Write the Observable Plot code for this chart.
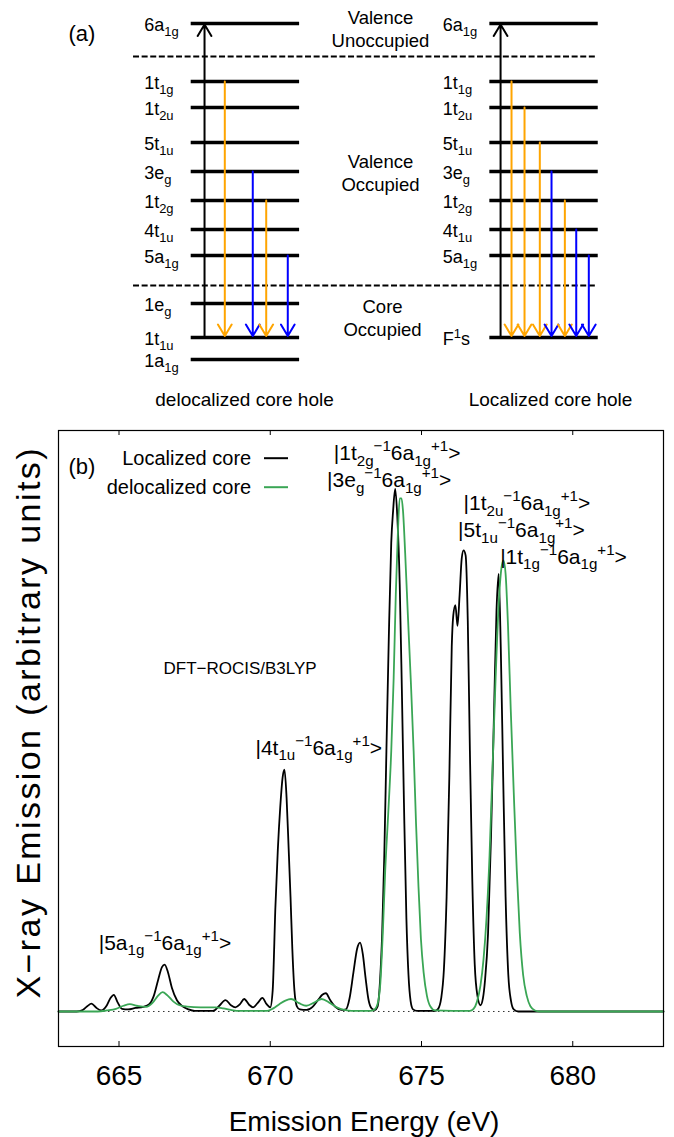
<!DOCTYPE html>
<html>
<head>
<meta charset="utf-8">
<script src="https://cdn.jsdelivr.net/npm/d3@7"></script>
<script src="https://cdn.jsdelivr.net/npm/@observablehq/plot@0.6"></script>
<style>
html, body { margin: 0; padding: 0; background: #fff; }
#chart { width: 674px; }
#chart svg { display: block; }
</style>
</head>
<body>
<div id="chart"></div>
<script>
// ---------------- DATA ----------------
// Panel (a): schematic orbital energies (arbitrary units)
const leftLevelNames  = ["6a_{1g}","1t_{1g}","1t_{2u}","5t_{1u}","3e_{g}","1t_{2g}","4t_{1u}","5a_{1g}","1e_{g}","1t_{1u}","1a_{1g}"];
const leftLevelEnergy = [33.7, 27.9, 25.3, 21.8, 18.9, 16.0, 13.1, 10.5, 5.7, 2.3, 0.1];
const rightLevelNames  = ["6a_{1g}","1t_{1g}","1t_{2u}","5t_{1u}","3e_{g}","1t_{2g}","4t_{1u}","5a_{1g}","F^{1}s"];
const rightLevelEnergy = [33.7, 27.9, 25.3, 21.8, 18.9, 16.0, 13.1, 10.5, 2.3];
const boundaryEnergy = [30.4, 7.5];
const regionLabels = ["Valence\nUnoccupied", "Valence\nOccupied", "Core\nOccupied"];
const regionEnergy = [33.2, 18.8, 4.3];
const regionPos = [1.746, 1.746, 1.765];
// emission transitions (position along the level line, 0..1)
const leftArrowFrom  = ["1t_{1g}","3e_{g}","1t_{2g}","5a_{1g}"];
const leftArrowPos   = [0.31, 0.568, 0.692, 0.891];
const leftArrowColor = ["orange","blue","orange","blue"];
const rightArrowFrom  = ["1t_{1g}","1t_{2u}","5t_{1u}","3e_{g}","1t_{2g}","4t_{1u}","5a_{1g}"];
const rightArrowPos   = [0.2, 0.32, 0.461, 0.569, 0.692, 0.797, 0.913];
const rightArrowColor = ["orange","orange","orange","blue","orange","blue","blue"];
const excitePos = [0.123, 0.099];
const captionText = ["delocalized core hole", "Localized core hole"];

// Panel (b): spectra [energy (eV), intensity (arb.)]
const localized = [
[663.0,0],[663.6,0],[663.8,0.003],[663.95,0.010],[664.09,0.015],[664.25,0.007],[664.42,0.002],
[664.6,0.012],[664.72,0.026],[664.83,0.032],[664.95,0.018],[665.1,0.005],[665.3,0.004],[665.55,0.007],
[665.8,0.009],[666.0,0.014],[666.15,0.03],[666.3,0.062],[666.42,0.085],[666.51,0.090],[666.62,0.075],
[666.75,0.045],[666.92,0.021],[667.1,0.01],[667.3,0.004],[667.5,0.001],[668.1,0.001],[668.3,0.01],
[668.52,0.022],[668.7,0.012],[668.85,0.008],[669.0,0.014],[669.14,0.024],[669.3,0.013],[669.43,0.008],
[669.58,0.016],[669.74,0.026],[669.88,0.014],[670.0,0.008],[670.08,0.04],[670.17,0.2],[670.25,0.31],
[670.33,0.392],[670.41,0.45],[670.47,0.464],[670.54,0.41],[670.61,0.31],[670.67,0.22],[670.73,0.12],
[670.8,0.04],[670.88,0.01],[670.98,0.004],[671.2,0.003],[671.4,0.009],[671.58,0.022],[671.72,0.032],
[671.84,0.035],[671.98,0.022],[672.15,0.009],[672.35,0.003],[672.5,0.004],[672.62,0.025],[672.75,0.075],
[672.87,0.12],[672.97,0.132],[673.06,0.11],[673.15,0.065],[673.25,0.022],[673.35,0.006],[673.45,0.003],
[673.55,0.01],[673.63,0.06],[673.7,0.15],[673.77,0.3],[673.84,0.5],[673.92,0.72],[674.0,0.9],
[674.06,0.96],[674.13,1.003],[674.2,0.95],[674.28,0.82],[674.35,0.62],[674.42,0.4],[674.5,0.18],
[674.57,0.07],[674.64,0.02],[674.72,0.004],[674.85,0.001],[675.45,0.001],[675.55,0.005],[675.65,0.025],
[675.74,0.08],[675.83,0.22],[675.92,0.45],[676.0,0.7],[676.05,0.76],[676.12,0.78],[676.19,0.74],
[676.26,0.8],[676.33,0.87],[676.39,0.885],[676.46,0.875],[676.53,0.75],[676.6,0.5],[676.68,0.25],
[676.76,0.09],[676.85,0.03],[676.95,0.012],[677.03,0.025],[677.1,0.06],[677.2,0.15],[677.3,0.34],
[677.4,0.58],[677.48,0.77],[677.55,0.84],[677.62,0.7],[677.7,0.45],[677.78,0.22],[677.87,0.07],
[677.96,0.02],[678.05,0.004],[678.2,0],[683.0,0]
];
const delocalized = [
[663.0,0],[664.3,0],[664.6,0.002],[664.9,0.005],[665.15,0.011],[665.36,0.014],[665.6,0.011],
[665.9,0.009],[666.1,0.016],[666.3,0.031],[666.44,0.037],[666.6,0.031],[666.8,0.019],[667.0,0.012],
[667.25,0.0095],[667.7,0.008],[668.2,0.008],[668.45,0.006],[668.7,0.003],[669.0,0.001],[669.9,0.001],
[670.1,0.006],[670.3,0.014],[670.5,0.021],[670.69,0.024],[670.95,0.016],[671.19,0.011],[671.45,0.017],
[671.7,0.024],[671.95,0.017],[672.2,0.008],[672.45,0.003],[672.7,0.001],[673.3,0.001],[673.45,0.004],
[673.55,0.015],[673.64,0.055],[673.72,0.15],[673.8,0.27],[673.9,0.38],[674.0,0.5],[674.08,0.64],
[674.15,0.8],[674.22,0.92],[674.28,0.985],[674.34,0.985],[674.39,0.96],[674.46,0.88],[674.55,0.76],
[674.65,0.63],[674.74,0.5],[674.82,0.36],[674.9,0.24],[674.98,0.14],[675.07,0.075],[675.18,0.03],
[675.29,0.01],[675.45,0.002],[676.6,0.001],[676.72,0.005],[676.83,0.018],[676.95,0.05],[677.05,0.1],
[677.15,0.18],[677.25,0.3],[677.35,0.47],[677.45,0.64],[677.55,0.78],[677.64,0.85],[677.71,0.866],
[677.78,0.84],[677.86,0.74],[677.95,0.58],[678.05,0.42],[678.15,0.27],[678.25,0.15],[678.36,0.07],
[678.48,0.03],[678.6,0.01],[678.75,0.002],[678.9,0],[683.0,0]
];
const xTicks = [665, 670, 675, 680];
const legendLabels = ["Localized core", "delocalized core"];
const annoText = [
  "|1t_{2g}^{−1}6a_{1g}^{+1}>",
  "|3e_{g}^{−1}6a_{1g}^{+1}>",
  "|1t_{2u}^{−1}6a_{1g}^{+1}>",
  "|5t_{1u}^{−1}6a_{1g}^{+1}>",
  "|1t_{1g}^{−1}6a_{1g}^{+1}>",
  "|4t_{1u}^{−1}6a_{1g}^{+1}>",
  "|5a_{1g}^{−1}6a_{1g}^{+1}>"
];
const annoE = [672.10, 671.88, 676.39, 676.21, 677.60, 669.51, 664.33];
const annoV = [1.058, 1.006, 0.962, 0.910, 0.859, 0.493, 0.118];
const methodLabel = "DFT−ROCIS/B3LYP";
const yTitle = "X−ray Emission (arbitrary units)";
const xTitle = "Emission Energy (eV)";

// ---------------- STYLE / LAYOUT ----------------
const FONT = "'Liberation Sans', Arial, Helvetica, sans-serif";
const GREEN = "#3aa655";
const W = 674;

// ---------------- PANEL A ----------------
const AH = 415;
const diagLeftPx = 190.7, diagWidthPx = 108.4;
const rightOffset = 2.755;
const labelOffset = -0.434;
const levels = [
  ...leftLevelNames.map((n, i) => ({name: n, energy: leftLevelEnergy[i], off: 0})),
  ...rightLevelNames.map((n, i) => ({name: n, energy: rightLevelEnergy[i], off: rightOffset}))
];
const eL = n => leftLevelEnergy[leftLevelNames.indexOf(n)];
const eR = n => rightLevelEnergy[rightLevelNames.indexOf(n)];
const arrows = [
  ...leftArrowFrom.map((n, i) => ({x: leftArrowPos[i], y1: eL(n), y2: eL("1t_{1u}"), color: leftArrowColor[i]})),
  ...rightArrowFrom.map((n, i) => ({x: rightOffset + rightArrowPos[i], y1: eR(n), y2: eR("F^{1}s"), color: rightArrowColor[i]}))
];
const excite = [
  {x: excitePos[0], y1: eL("1t_{1u}"), y2: eL("6a_{1g}")},
  {x: rightOffset + excitePos[1], y1: eR("F^{1}s"), y2: eR("6a_{1g}")}
];
const captionPos = [0.492, 3.315];

const panelA = Plot.plot({
  width: W, height: AH,
  marginLeft: 0, marginRight: 0, marginTop: 0, marginBottom: 0,
  x: {domain: [-diagLeftPx / diagWidthPx, (W - diagLeftPx) / diagWidthPx], range: [0, W], axis: null},
  y: {domain: [-5.5, 36], range: [AH, 0], axis: null},
  color: {type: "identity"},
  style: {fontFamily: FONT, color: "#000", background: "#fff", overflow: "visible"},
  marks: [
    Plot.ruleY(boundaryEnergy, {x1: -0.532, x2: 3.73, stroke: "#000", strokeWidth: 1.8, strokeDasharray: "6,2.6"}),
    Plot.ruleY(levels, {y: "energy", x1: "off", x2: d => d.off + 1, stroke: "#000", strokeWidth: 3.5}),
    Plot.arrow(excite, {x1: "x", x2: "x", y1: "y1", y2: "y2", stroke: "#000", strokeWidth: 2, headLength: 10, headAngle: 62, insetEnd: 1}),
    Plot.arrow(arrows, {x1: "x", x2: "x", y1: "y1", y2: "y2", stroke: "color", strokeWidth: 2, headLength: 10, headAngle: 62, insetEnd: 1.5}),
    Plot.text(levels, {x: d => d.off + labelOffset, y: "energy", text: "name", textAnchor: "start", fontSize: 18, dy: 2}),
    Plot.text(regionLabels, {x: (d, i) => regionPos[i], y: (d, i) => regionEnergy[i], textAnchor: "middle", fontSize: 18.5, lineHeight: 1.22}),
    Plot.text(captionText, {x: (d, i) => captionPos[i], y: -3.9, textAnchor: "middle", fontSize: 19}),
    Plot.text(["(a)"], {x: -1.132, y: 32.7, textAnchor: "start", fontSize: 22})
  ]
});

// ---------------- PANEL B ----------------
const BH = 722, mL = 58, mR = 11, mT = 15, mB = 91;
const yLo = -0.0672, yHi = 1.1152;
const xPix = d3.scaleLinear([663, 683], [mL, W - mR]);
const yPix = d3.scaleLinear([yLo, yHi], [BH - mB, mT]);
const tickLen = 5;
const legendY = [yPix.invert(42.7), yPix.invert(71.7)];
const legendColors = ["#000", GREEN];

const panelB = Plot.plot({
  width: W, height: BH,
  marginLeft: mL, marginRight: mR, marginTop: mT, marginBottom: mB,
  x: {domain: [663, 683]},
  y: {domain: [yLo, yHi], axis: null},
  color: {type: "identity"},
  style: {fontFamily: FONT, color: "#000", background: "#fff", overflow: "visible"},
  marks: [
    Plot.ruleY([0], {stroke: "#333", strokeWidth: 1, strokeDasharray: "1.5,3.5"}),
    Plot.line(localized, {x: d => d[0], y: d => d[1], stroke: "#000", strokeWidth: 1.8, curve: "monotone-x"}),
    Plot.line(delocalized, {x: d => d[0], y: d => d[1], stroke: GREEN, strokeWidth: 1.8, curve: "monotone-x"}),
    Plot.frame({stroke: "#000", strokeWidth: 1.2}),
    Plot.ruleX(xTicks, {y1: yLo, y2: yPix.invert(BH - mB - tickLen), stroke: "#000", strokeWidth: 1}),
    Plot.ruleX(xTicks, {y1: yHi, y2: yPix.invert(mT + tickLen), stroke: "#000", strokeWidth: 1}),
    Plot.axisX({ticks: xTicks, tickSize: 0, tickPadding: 18.5, fontSize: 28, label: null}),
    Plot.text([xTitle], {frameAnchor: "bottom", dx: 3, dy: 84, lineAnchor: "bottom", fontSize: 28}),
    Plot.text([yTitle], {frameAnchor: "left", rotate: -90, dx: -29.5, dy: -15, textAnchor: "middle", fontSize: 34}),
    Plot.text(["(b)"], {frameAnchor: "top-left", dx: 10, dy: 28, textAnchor: "start", fontSize: 22}),
    Plot.text(legendLabels, {x: xPix.invert(250.7), y: (d, i) => legendY[i], textAnchor: "end", fontSize: 20}),
    Plot.ruleY(legendLabels, {y: (d, i) => legendY[i], x1: xPix.invert(264), x2: xPix.invert(288), stroke: (d, i) => legendColors[i], strokeWidth: 2}),
    Plot.text(annoText, {x: (d, i) => annoE[i], y: (d, i) => annoV[i], textAnchor: "start", lineAnchor: "bottom", fontSize: 21}),
    Plot.text([methodLabel], {x: 666.47, y: 0.647, textAnchor: "start", lineAnchor: "bottom", fontSize: 17})
  ]
});

const chart = document.getElementById("chart");
chart.appendChild(panelA);
chart.appendChild(panelB);

// stretch the y title to the length seen in the reference
panelB.querySelectorAll("text").forEach(t => {
  if (t.textContent === yTitle) {
    t.setAttribute("textLength", "550");
    t.setAttribute("lengthAdjust", "spacing");
  }
});

// ---------------- rich text: _{sub} and ^{sup} ----------------
function richify(svg) {
  const NS = "http://www.w3.org/2000/svg";
  svg.querySelectorAll("text").forEach(t => {
    const targets = t.querySelectorAll("tspan").length ? Array.from(t.querySelectorAll("tspan")) : [t];
    targets.forEach(el => {
      const s = el.textContent;
      if (!/[_^]\{/.test(s)) return;
      const fs = parseFloat(getComputedStyle(el).fontSize) || 16;
      const segs = [];
      const re = /([_^])\{([^}]*)\}/g;
      let last = 0, m;
      while ((m = re.exec(s))) {
        if (m.index > last) segs.push({text: s.slice(last, m.index), mode: 0});
        segs.push({text: m[2], mode: m[1] === "_" ? 1 : -1});
        last = re.lastIndex;
      }
      if (last < s.length) segs.push({text: s.slice(last), mode: 0});
      el.textContent = "";
      let cur = 0;
      segs.forEach(seg => {
        const ts = document.createElementNS(NS, "tspan");
        const target = seg.mode === 1 ? 0.25 * fs : seg.mode === -1 ? -0.43 * fs : 0;
        const dy = target - cur;
        if (dy) ts.setAttribute("dy", dy.toFixed(2));
        cur = target;
        if (seg.mode) ts.setAttribute("font-size", (0.72 * fs).toFixed(2));
        ts.textContent = seg.text;
        el.appendChild(ts);
      });
    });
  });
}
richify(panelA);
richify(panelB);
</script>
</body>
</html>
